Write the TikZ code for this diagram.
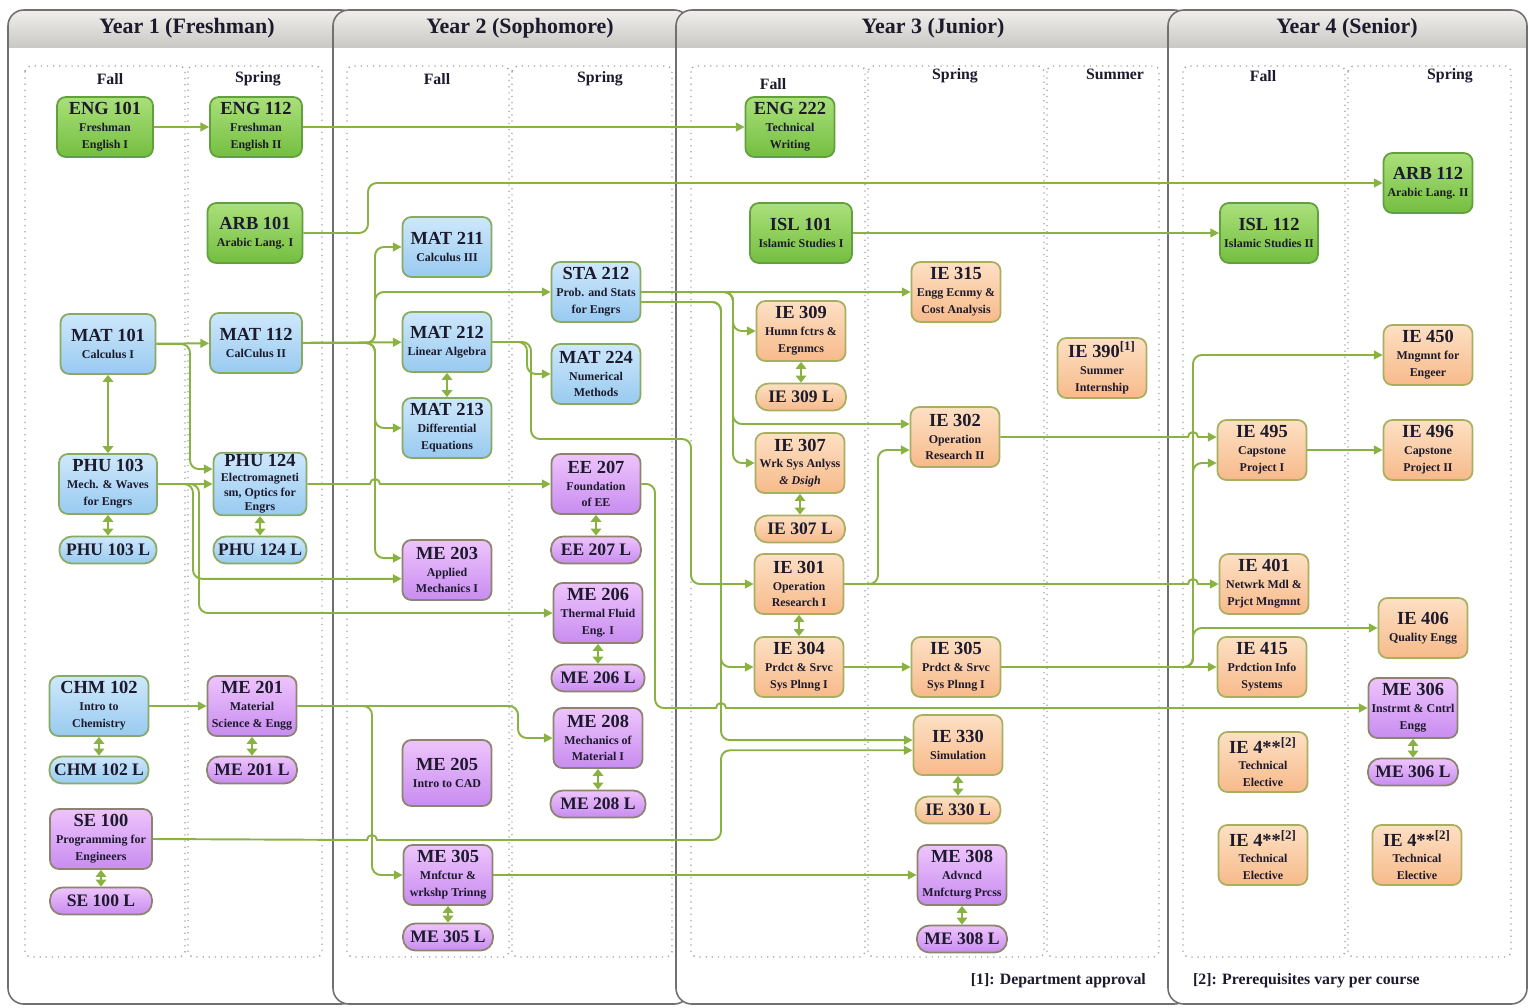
\documentclass[tikz,border=0pt]{standalone}
\usepackage{fontspec}
\setmainfont{Liberation Serif}
\usepackage{tikz}
\usetikzlibrary{positioning,arrows.meta,calc}
\definecolor{lnk}{RGB}{138,178,66}
\definecolor{txtc}{RGB}{28,26,44}
\definecolor{pnlc}{RGB}{112,112,112}
\definecolor{hdtop}{RGB}{240,239,235}
\definecolor{hdbot}{RGB}{201,200,196}
\definecolor{grntop}{RGB}{170,224,122}
\definecolor{grnbot}{RGB}{116,190,64}
\definecolor{grnbd}{RGB}{98,160,62}
\definecolor{blutop}{RGB}{206,232,251}
\definecolor{blubot}{RGB}{152,202,240}
\definecolor{blubd}{RGB}{136,170,98}
\definecolor{purtop}{RGB}{238,196,252}
\definecolor{purbot}{RGB}{200,140,240}
\definecolor{purbd}{RGB}{140,132,110}
\definecolor{orgtop}{RGB}{253,224,196}
\definecolor{orgbot}{RGB}{247,186,138}
\definecolor{orgbd}{RGB}{168,176,96}
\tikzset{
  crsbox/.style={draw, rounded corners=5pt, line width=1pt, align=center,
    minimum width=1.78cm, minimum height=1.2cm, inner sep=1pt,
    font=\fontsize{6.8}{9.6}\selectfont\bfseries, text=txtc},
  crsg/.style={crsbox, draw=grnbd, top color=grntop, bottom color=grnbot},
  crsb/.style={crsbox, draw=blubd, top color=blutop, bottom color=blubot},
  crsp/.style={crsbox, draw=purbd, top color=purtop, bottom color=purbot},
  crso/.style={crsbox, draw=orgbd, top color=orgtop, bottom color=orgbot},
  labbox/.style={draw, rounded corners=7pt, line width=1pt, minimum width=1.8cm,
    minimum height=0.54cm, inner sep=1pt, font=\fontsize{10}{11}\selectfont\bfseries, text=txtc},
  labb/.style={labbox, draw=blubd, top color=blutop, bottom color=blubot},
  labp/.style={labbox, draw=purbd, top color=purtop, bottom color=purbot},
  labo/.style={labbox, draw=orgbd, top color=orgtop, bottom color=orgbot},
  prq/.style={draw=lnk, line width=1.1pt, rounded corners=5pt, -{Triangle[length=5pt,width=5pt]}},
  coreq/.style={draw=lnk, line width=1.6pt, {Triangle[length=4pt,width=6pt]}-{Triangle[length=4pt,width=6pt]}},
  yearhd/.style={font=\fontsize{12.5}{14}\selectfont\bfseries, text=txtc},
  semlbl/.style={font=\fontsize{9}{10}\selectfont\bfseries, text=txtc},
  semrule/.style={draw=gray!75, line width=0.8pt, dash pattern=on 0.7pt off 2.8pt},
  panel/.style={draw=pnlc, line width=0.9pt, rounded corners=9pt},
  fnote/.style={font=\fontsize{9}{10}\selectfont\bfseries, text=txtc},
}
\newcommand{\crs}[1]{{\fontsize{10.5}{10}\selectfont #1}}

\begin{document}
\begin{tikzpicture}[x=0.02cm, y=-0.02cm]
  \useasboundingbox (0,0) rectangle (1533,1007);
  \fill[white] (0,0) rectangle (1533,1007);

  % year panels
  \foreach \xa/\xb/\xt/\yr in {8/357/187/{Year 1 (Freshman)}, 333/690/520/{Year 2 (Sophomore)},
      676/1190/933/{Year 3 (Junior)}, 1168/1527/1347/{Year 4 (Senior)}} {
    \begin{scope}
      \clip[rounded corners=9pt] (\xa,10) rectangle (\xb,1004);
      \fill[white] (\xa,10) rectangle (\xb,1004);
      \shade[top color=hdtop, bottom color=hdbot] (\xa,10) rectangle (\xb,48);
    \end{scope}
    \draw[panel] (\xa,10) rectangle (\xb,1004);
    \node[yearhd] (yr\xa) at (\xt,28) {\yr};
  }

  % semester columns
  \foreach \xa/\xb in {25/185, 188/322, 347/509, 512/672, 691/865, 868/1044, 1047/1159, 1183/1345, 1348/1511}
    \draw[semrule, rounded corners=3pt] (\xa,66) rectangle (\xb,957);
  \node[semlbl] (s1f) at (110,79) {Fall};
  \node[semlbl] (s1s) at (258,79) {Spring};
  \node[semlbl] (s2f) at (437,79) {Fall};
  \node[semlbl] (s2s) at (600,79) {Spring};
  \node[semlbl] (s3f) at (773,84) {Fall};
  \node[semlbl] (s3s) at (955,76) {Spring};
  \node[semlbl] (s3u) at (1115,74) {Summer};
  \node[semlbl] (s4f) at (1263,76) {Fall};
  \node[semlbl] (s4s) at (1450,76) {Spring};

  % year 1
  \node[crsg, minimum width=1.92cm] (eng101) at (105,127) {\crs{ENG 101}\\Freshman\\English I};
  \node[crsb, minimum width=1.9cm] (mat101) at (108,344) {\crs{MAT 101}\\Calculus I};
  \node[crsb, minimum width=1.96cm] (phu103) at (108,484) {\crs{PHU 103}\\Mech. \& Waves\\for Engrs};
  \node[labb, minimum width=1.94cm] (phu103l) at (108,550) {PHU 103 L};
  \node[crsb, minimum width=1.98cm] (chm102) at (99,706) {\crs{CHM 102}\\Intro to\\Chemistry};
  \node[labb, minimum width=1.98cm] (chm102l) at (99,770) {CHM 102 L};
  \node[crsp, minimum width=2.04cm] (se100) at (101,839) {\crs{SE 100}\\Programming for\\Engineers};
  \node[labp, minimum width=2.04cm] (se100l) at (101,901) {SE 100 L};
  \node[crsg, minimum width=1.84cm] (eng112) at (256,127) {\crs{ENG 112}\\Freshman\\English II};
  \node[crsg, minimum width=1.9cm] (arb101) at (255,233) {\crs{ARB 101}\\Arabic Lang. I};
  \node[crsb, minimum width=1.84cm] (mat112) at (256,343) {\crs{MAT 112}\\CalCulus II};
  \node[crsb, minimum width=1.86cm, font=\fontsize{6.8}{8.4}\selectfont\bfseries] (phu124) at (260,484) {\crs{PHU 124}\\Electromagneti\\sm, Optics for\\Engrs};
  \node[labb, minimum width=1.86cm] (phu124l) at (260,550) {PHU 124 L};
  \node[crsp] (me201) at (252,706) {\crs{ME 201}\\Material\\Science \& Engg};
  \node[labp] (me201l) at (252,770) {ME 201 L};

  % year 2
  \node[crsb] (mat211) at (447,247) {\crs{MAT 211}\\Calculus III};
  \node[crsb] (mat212) at (447,342) {\crs{MAT 212}\\Linear Algebra};
  \node[crsb] (mat213) at (447,428) {\crs{MAT 213}\\Differential\\Equations};
  \node[crsp] (me203) at (447,570) {\crs{ME 203}\\Applied\\Mechanics I};
  \node[crsp, minimum height=1.32cm] (me205) at (447,773) {\crs{ME 205}\\Intro to CAD};
  \node[crsp] (me305) at (448,875) {\crs{ME 305}\\Mnfctur \&\\wrkshp Trinng};
  \node[labp] (me305l) at (448,937) {ME 305 L};
  \node[crsb] (sta212) at (596,292) {\crs{STA 212}\\Prob. and Stats\\for Engrs};
  \node[crsb] (mat224) at (596,374) {\crs{MAT 224}\\Numerical\\Methods};
  \node[crsp] (ee207) at (596,484) {\crs{EE 207}\\Foundation\\of EE};
  \node[labp] (ee207l) at (596,550) {EE 207 L};
  \node[crsp] (me206) at (598,613) {\crs{ME 206}\\Thermal Fluid\\Eng. I};
  \node[labp, minimum width=1.86cm] (me206l) at (598,678) {ME 206 L};
  \node[crsp] (me208) at (598,738) {\crs{ME 208}\\Mechanics of\\Material I};
  \node[labp, minimum width=1.9cm] (me208l) at (598,804) {ME 208 L};

  % year 3
  \node[crsg] (eng222) at (790,127) {\crs{ENG 222}\\Technical\\Writing};
  \node[crsg, minimum width=2.04cm] (isl101) at (801,233) {\crs{ISL 101}\\Islamic Studies I};
  \node[crso] (ie309) at (801,331) {\crs{IE 309}\\Humn fctrs \&\\Ergnmcs};
  \node[labo] (ie309l) at (801,397) {IE 309 L};
  \node[crso] (ie307) at (800,463) {\crs{IE 307}\\Wrk Sys Anlyss\\\itshape \& Dsigh};
  \node[labo] (ie307l) at (800,529) {IE 307 L};
  \node[crso] (ie301) at (799,584) {\crs{IE 301}\\Operation\\Research I};
  \node[crso] (ie304) at (799,667) {\crs{IE 304}\\Prdct \& Srvc\\Sys Plnng I};
  \node[crso] (ie315) at (956,292) {\crs{IE 315}\\Engg Ecnmy \&\\Cost Analysis};
  \node[crso] (ie302) at (955,437) {\crs{IE 302}\\Operation\\Research II};
  \node[crso] (ie305) at (956,667) {\crs{IE 305}\\Prdct \& Srvc\\Sys Plnng I};
  \node[crso] (ie330) at (958,745) {\crs{IE 330}\\Simulation};
  \node[labo, minimum width=1.7cm] (ie330l) at (958,810) {IE 330 L};
  \node[crsp] (me308) at (962,875) {\crs{ME 308}\\Advncd\\Mnfcturg Prcss};
  \node[labp] (me308l) at (962,939) {ME 308 L};
  \node[crso] (ie390) at (1102,368) {\crs{IE 390\textsuperscript{[1]}}\\Summer\\Internship};

  % year 4
  \node[crsg, minimum width=1.96cm] (isl112) at (1269,233) {\crs{ISL 112}\\Islamic Studies II};
  \node[crso] (ie495) at (1262,450) {\crs{IE 495}\\Capstone\\Project I};
  \node[crso] (ie401) at (1264,584) {\crs{IE 401}\\Netwrk Mdl \&\\Prjct Mngmnt};
  \node[crso] (ie415) at (1262,667) {\crs{IE 415}\\Prdction Info\\Systems};
  \node[crso] (ie4a) at (1263,762) {\crs{IE 4**\textsuperscript{[2]}}\\Technical\\Elective};
  \node[crso] (ie4b) at (1263,855) {\crs{IE 4**\textsuperscript{[2]}}\\Technical\\Elective};
  \node[crsg] (arb112) at (1428,183) {\crs{ARB 112}\\Arabic Lang. II};
  \node[crso] (ie450) at (1428,355) {\crs{IE 450}\\Mngmnt for\\Engeer};
  \node[crso] (ie496) at (1428,450) {\crs{IE 496}\\Capstone\\Project II};
  \node[crso] (ie406) at (1423,628) {\crs{IE 406}\\Quality Engg};
  \node[crsp] (me306) at (1413,708) {\crs{ME 306}\\Instrmt \& Cntrl\\Engg};
  \node[labp] (me306l) at (1413,772) {ME 306 L};
  \node[crso] (ie4c) at (1417,855) {\crs{IE 4**\textsuperscript{[2]}}\\Technical\\Elective};

  \node[fnote, anchor=east] (fn1) at (1152,981) {[1]: Department approval};
  \node[fnote, anchor=west] (fn2) at (1187,981) {[2]: Prerequisites vary per course};

  % co-requisites
  \foreach \a/\b in {mat101/phu103, phu103/phu103l, phu124/phu124l, chm102/chm102l, se100/se100l,
      me201/me201l, mat212/mat213, ee207/ee207l, me206/me206l, me208/me208l, me305/me305l,
      ie309/ie309l, ie307/ie307l, ie301/ie304, ie330/ie330l, me308/me308l, me306/me306l}
    \draw[coreq] (\a) -- (\b);

  % prerequisites
  \draw[prq] (eng101) -- (eng112);
  \draw[prq] (eng112) -- (eng222);
  \draw[prq] (isl101) -- (isl112);
  \draw[prq] (arb101.east) -- (368,233) |- (arb112.west);
  \draw[prq] (mat101) -- (mat112);
  \draw[prq] (mat101.east) -- (190,344) |- ([yshift=8.5pt]phu124.west);
  \draw[prq] (phu103) -- (phu124);
  \draw[prq] (phu103.east) -- (193,484) |- ([yshift=-5pt]me203.west);
  \draw[prq] (phu103.east) -- (199,484) |- (me206.west);
  \draw[prq] (chm102) -- (me201);
  \draw[prq] (mat112.east) -- (375,343) |- (mat211.west);
  \draw[prq] (mat112.east) -- (375,343) |- (sta212.west);
  \draw[prq] (mat112) -- (mat212);
  \draw[prq] (mat112.east) -- (375,343) |- (mat213.west);
  \draw[prq] (mat112.east) -- (375,343) |- ([yshift=6.8pt]me203.west);
  \draw[prq, sharp corners] (phu124.east) -- (370,484) arc[start angle=180, end angle=360, radius=5] -- (ee207.west);
  \draw[prq] (me201.east) -- (518,706) |- (me208.west);
  \draw[prq] (me201.east) -- (372,706) |- (me305.west);
  \draw[prq, sharp corners] (se100.east) -- (367,840) arc[start angle=180, end angle=360, radius=5]
    -- (700,840) [rounded corners=5pt] -- (721,840) |- ([yshift=-3pt]ie330.west);
  \draw[prq] (mat212.east) -- (527,342) |- (mat224.west);
  \draw[prq] (mat212.east) -- (531,342) |- (691,439) |- (ie301.west);
  \draw[prq] (sta212) -- (ie315);
  \draw[prq] (sta212.east) -- (733,292) |- (ie309.west);
  \draw[prq] (sta212.east) -- (733,292) |- ([yshift=7.4pt]ie302.west);
  \draw[prq] (sta212.east) -- (733,292) |- (ie307.west);
  \draw[prq] ([yshift=-5.7pt]sta212.east) -- (721,302) |- (ie304.west);
  \draw[prq] ([yshift=-5.7pt]sta212.east) -- (721,302) |- ([yshift=2.8pt]ie330.west);
  \draw[prq] (ee207.east) -- (655,484) |- (705,708) [sharp corners] -- (716,708)
    arc[start angle=180, end angle=360, radius=5] -- (me306.west);
  \draw[prq] (me305) -- (me308);
  \draw[prq] (ie304) -- (ie305);
  \draw[prq] (ie301.east) -- (878,584) |- ([yshift=-7.4pt]ie302.west);
  \draw[prq, sharp corners] (ie301.east) -- (1188,584) arc[start angle=180, end angle=360, radius=5] -- (ie401.west);
  \draw[prq, sharp corners] (ie302.east) -- (1188,437) arc[start angle=180, end angle=360, radius=5] -- ([yshift=7.4pt]ie495.west);
  \draw[prq] (ie305) -- (ie415);
  \draw[prq] (ie305.east) -- (1193,667) |- (ie450.west);
  \draw[prq] (ie305.east) -- (1193,667) |- ([yshift=-7.4pt]ie495.west);
  \draw[prq] (ie305.east) -- (1193,667) |- (ie406.west);
  \draw[prq] (ie495) -- (ie496);
\end{tikzpicture}
\end{document}
